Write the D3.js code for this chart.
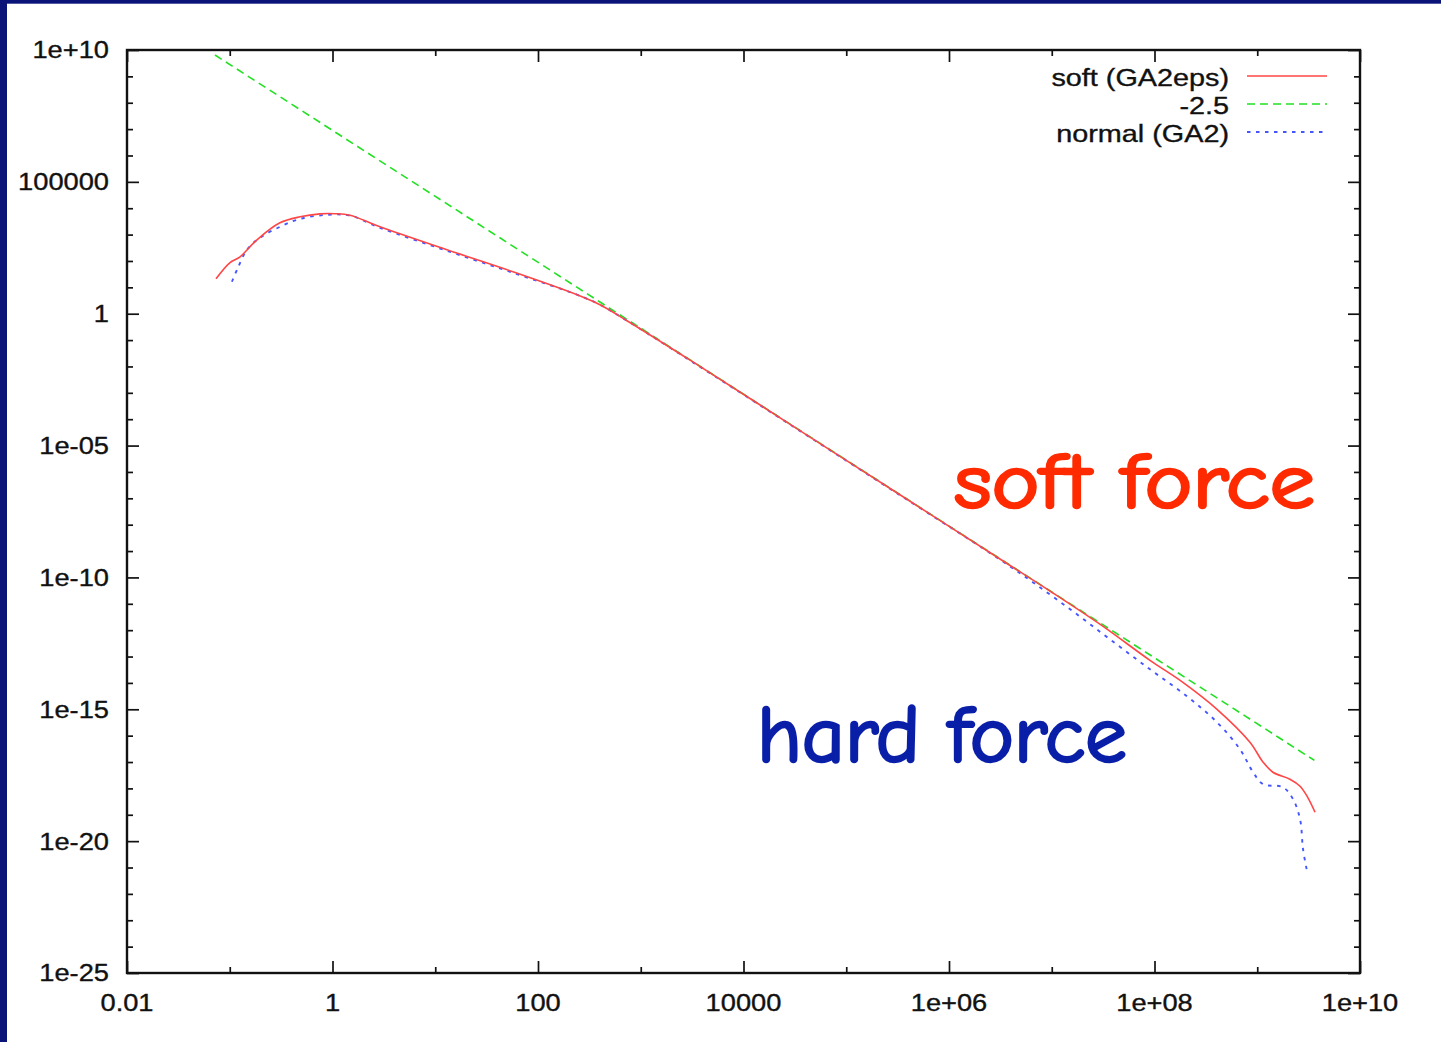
<!DOCTYPE html>
<html>
<head>
<meta charset="utf-8">
<script src="https://cdn.jsdelivr.net/npm/d3@7"></script>
<style>
  html, body { margin: 0; padding: 0; background: #ffffff; }
  svg { display: block; }
</style>
</head>
<body>
<script>
// Tick values and their printed labels (gnuplot style)
const xTickValues = [0.01, 1, 100, 1e4, 1e6, 1e8, 1e10];
const xTickLabels = ["0.01", "1", "100", "10000", "1e+06", "1e+08", "1e+10"];
const xMinorTicks = [0.1, 10, 1000, 1e5, 1e7, 1e9];
const yTickValues = [1e10, 1e5, 1, 1e-5, 1e-10, 1e-15, 1e-20, 1e-25];
const yTickLabels = ["1e+10", "100000", "1", "1e-05", "1e-10", "1e-15", "1e-20", "1e-25"];
const yMinorTicks = [1e9, 1e8, 1e7, 1e6, 1e4, 1e3, 1e2, 1e1, 1e-1, 1e-2, 1e-3, 1e-4,
  1e-6, 1e-7, 1e-8, 1e-9, 1e-11, 1e-12, 1e-13, 1e-14, 1e-16, 1e-17, 1e-18, 1e-19,
  1e-21, 1e-22, 1e-23, 1e-24];

// soft (GA2eps)
const softX = [0.0735, 0.100, 0.126, 0.184, 0.308, 0.483, 0.755, 1.06, 1.48, 2.90, 13.0, 57.1,
  240, 401, 735, 3160, 3.16e4, 3.16e5, 3.16e6, 1.0e7, 3.16e7, 9.04e7, 1.89e8, 4.06e8,
  8.49e8, 1.14e9, 1.42e9, 2.08e9, 2.61e9, 3.05e9, 3.65e9];
const softY = [21.2, 85.5, 144, 635, 2800, 4720, 6100, 6200, 5450, 1970, 265, 39.0,
  5.25, 2.19, 0.543, 0.0155, 4.9e-5, 1.55e-7, 4.9e-10, 2.75e-11, 1.39e-12, 7.18e-14, 1.05e-14, 1.0e-15,
  5.62e-17, 9.82e-18, 4.11e-18, 2.23e-18, 1.21e-18, 5.07e-19, 1.25e-19];

// power law with slope -2.5
const slopeX = [0.0718, 3.6e9];
const slopeY = [6.46e9, 1.15e-17];

// normal (GA2)
const normalX = [0.105, 0.120, 0.147, 0.197, 0.308, 0.483, 0.883, 1.48, 2.90, 13.0, 57.1,
  240, 401, 735, 3160, 3.16e4, 3.16e5, 3.13e6, 6.58e6, 1.61e7, 3.69e7, 9.04e7, 2.07e8,
  4.06e8, 6.79e8, 9.10e8, 1.14e9, 1.78e9, 2.23e9, 2.61e9, 2.79e9, 3.05e9];
const normalY = [16.3, 55.2, 265, 757, 1970, 3960, 5620, 5250, 1820, 243, 35.7,
  5.25, 2.19, 0.543, 0.0151, 4.79e-5, 1.51e-7, 4.79e-10, 6.47e-11, 5.15e-12, 4.49e-13, 3.27e-14, 3.10e-15,
  3.22e-16, 3.05e-17, 4.11e-18, 1.44e-18, 1.11e-18, 3.90e-19, 6.81e-20, 4.98e-21, 7.31e-22];

const seriesNames = ["soft (GA2eps)", "-2.5", "normal (GA2)"];

const W = 1441, H = 1042;
const plot = { left: 127, right: 1360, top: 50, bottom: 973 };
const labelFont = "'Liberation Sans', Arial, Helvetica, sans-serif";
const stretch = 1.16;   // wide Helvetica look of the tick / key lettering

const svg = d3.select("body").append("svg").attr("width", W).attr("height", H);

// slide background with navy edge
svg.append("rect").attr("width", W).attr("height", H).attr("fill", "#ffffff");
svg.append("rect").attr("x", 0).attr("y", 0).attr("width", 7).attr("height", H).attr("fill", "#0a1478");
svg.append("rect").attr("x", 0).attr("y", 0).attr("width", W).attr("height", 3.7).attr("fill", "#0a1478");

const x = d3.scaleLog().domain([0.01, 1e10]).range([plot.left, plot.right]);
const y = d3.scaleLog().domain([1e-25, 1e10]).range([plot.bottom, plot.top]);

// ticks on all four sides, pointing inward
function tickAxis(axisFn, scale, values, size, transform) {
  const g = svg.append("g").attr("transform", transform)
    .call(axisFn(scale).tickValues(values).tickSize(-size).tickFormat(""));
  g.select(".domain").remove();
  g.selectAll(".tick line").attr("stroke", "#111").attr("stroke-width", 1.7);
  return g;
}
tickAxis(d3.axisBottom, x, xTickValues, 12, `translate(0,${plot.bottom})`);
tickAxis(d3.axisBottom, x, xMinorTicks, 6, `translate(0,${plot.bottom})`);
tickAxis(d3.axisTop, x, xTickValues, 12, `translate(0,${plot.top})`);
tickAxis(d3.axisTop, x, xMinorTicks, 6, `translate(0,${plot.top})`);
tickAxis(d3.axisLeft, y, yTickValues, 12, `translate(${plot.left},0)`);
tickAxis(d3.axisLeft, y, yMinorTicks, 6, `translate(${plot.left},0)`);
tickAxis(d3.axisRight, y, yTickValues, 12, `translate(${plot.right},0)`);
tickAxis(d3.axisRight, y, yMinorTicks, 6, `translate(${plot.right},0)`);

// frame
svg.append("rect")
  .attr("x", plot.left).attr("y", plot.top)
  .attr("width", plot.right - plot.left).attr("height", plot.bottom - plot.top)
  .attr("fill", "none").attr("stroke", "#111").attr("stroke-width", 2.4);

// tick labels
const labelStyle = sel => sel
  .attr("font-family", labelFont).attr("font-size", 23.5).attr("fill", "#111")
  .attr("stroke", "#111").attr("stroke-width", 0.35);

svg.append("g").selectAll("text").data(xTickValues).join("text")
  .attr("transform", d => `translate(${x(d)},1011) scale(${stretch},1)`)
  .attr("text-anchor", "middle")
  .call(labelStyle)
  .text((d, i) => xTickLabels[i]);

svg.append("g").selectAll("text").data(yTickValues).join("text")
  .attr("transform", d => `translate(109,${y(d) + 8.4}) scale(${stretch},1)`)
  .attr("text-anchor", "end")
  .call(labelStyle)
  .text((d, i) => yTickLabels[i]);

// curves
const line = d3.line().x(d => x(d[0])).y(d => y(d[1])).curve(d3.curveCatmullRom.alpha(0.5));
const styles = [
  { color: "#ff4646", dash: null, width: 1.6 },
  { color: "#22e022", dash: "8,5", width: 1.6 },
  { color: "#4656ff", dash: "3.5,5.5", width: 1.9 }
];
const series = [
  d3.zip(softX, softY),
  d3.zip(slopeX, slopeY),
  d3.zip(normalX, normalY)
];
const drawOrder = [1, 2, 0];
drawOrder.forEach(i => {
  svg.append("path")
    .attr("d", line(series[i]))
    .attr("fill", "none")
    .attr("stroke", styles[i].color)
    .attr("stroke-width", styles[i].width)
    .attr("stroke-dasharray", styles[i].dash)
    .attr("stroke-linejoin", "round");
});

// key
const keyRows = [76, 104, 132];
const key = svg.append("g");
seriesNames.forEach((name, i) => {
  key.append("text")
    .attr("transform", `translate(1229,${keyRows[i] + 10}) scale(1.2,1)`)
    .attr("text-anchor", "end")
    .call(labelStyle)
    .attr("font-size", 24)
    .text(name);
  key.append("line")
    .attr("x1", 1247).attr("x2", 1327)
    .attr("y1", keyRows[i]).attr("y2", keyRows[i])
    .attr("stroke", styles[i].color)
    .attr("stroke-width", styles[i].width)
    .attr("stroke-dasharray", styles[i].dash);
});

// annotations
const noteFont = "'Comic Sans MS', 'Comic Neue', 'DejaVu Sans', sans-serif";
svg.append("text")
  .attr("x", 954).attr("y", 508)
  .attr("font-family", noteFont).attr("font-size", 78)
  .attr("textLength", 361).attr("lengthAdjust", "spacingAndGlyphs")
  .attr("fill", "#ff2a00").attr("stroke", "#ff2a00").attr("stroke-width", 2.6)
  .attr("stroke-linejoin", "round")
  .text("soft force");
svg.append("text")
  .attr("x", 757).attr("y", 762)
  .attr("font-family", noteFont).attr("font-size", 80)
  .attr("textLength", 370).attr("lengthAdjust", "spacingAndGlyphs")
  .attr("fill", "#0a1fa8").attr("stroke", "#0a1fa8").attr("stroke-width", 2.6)
  .attr("stroke-linejoin", "round")
  .text("hard force");
</script>
</body>
</html>
